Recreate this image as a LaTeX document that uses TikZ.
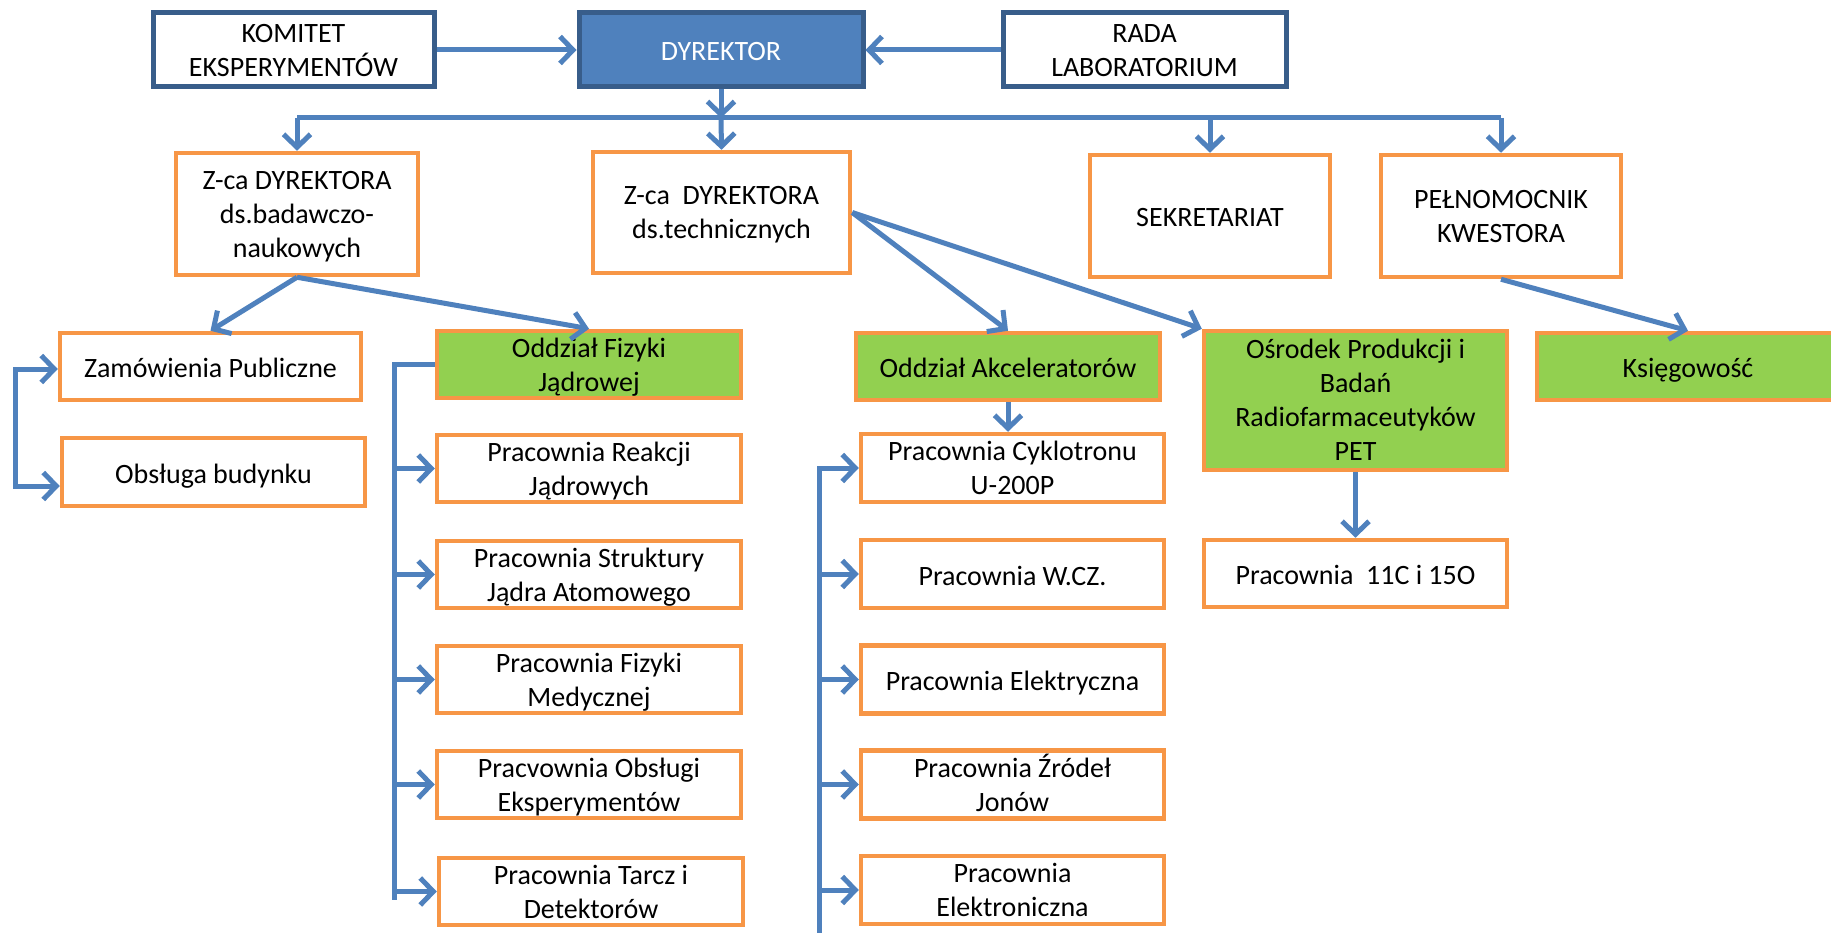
\documentclass[tikz,border=0pt]{standalone}
\usepackage{fontspec}
\setmainfont{Carlito}
\usetikzlibrary{arrows.meta}
\definecolor{lblue}{HTML}{4F81BD}
\definecolor{dblue}{HTML}{385D8A}
\definecolor{orng}{HTML}{F79646}
\definecolor{grn}{HTML}{92D050}
\begin{document}
\begin{tikzpicture}[x=1pt,y=-1pt,
  box/.style={draw=orng, line width=4.5pt, fill=white, align=center, inner sep=0pt,
    font=\fontsize{28}{34}\selectfont, text=black},
  gbox/.style={box, fill=grn},
  tbox/.style={box, draw=dblue, line width=5pt, minimum height=74pt},
  one/.style={text height=22pt, text depth=0pt},
  two/.style={text height=53pt, text depth=0pt},
  three/.style={text height=88pt, text depth=0pt},
  four/.style={text height=120pt, text depth=0pt},
  ln/.style={draw=lblue, line width=5pt, line join=miter},
  conn/.style={ln, -{Straight Barb[length=13pt,width=27pt]}},
  conn2/.style={ln, {Straight Barb[length=13pt,width=27pt]}-{Straight Barb[length=13pt,width=27pt]}}
]
\useasboundingbox (0,0) rectangle (1831,933);
\fill[white] (0,0) rectangle (1831,933);

% top row
\node[tbox, two, minimum width=281pt] (kom) at (293.5,50) {KOMITET\\EKSPERYMENTÓW};
\node[tbox, one, minimum width=284pt, fill=lblue, text=white] (dyr) at (721,50) {DYREKTOR};
\node[tbox, two, minimum width=283pt] (rada) at (1144.5,50) {RADA\\LABORATORIUM};

% second row
\node[box, three, minimum width=242pt, minimum height=122pt] (zb) at (297,214) {Z-ca DYREKTORA\\ds.badawczo-\\naukowych};
\node[box, two, minimum width=257pt, minimum height=121pt] (zt) at (721.5,212.5) {Z-ca~~DYREKTORA\\ds.technicznych};
\node[box, one, minimum width=240pt, minimum height=122pt] (sek) at (1210,216) {SEKRETARIAT};
\node[box, two, minimum width=240pt, minimum height=122pt] (pel) at (1501,216) {PEŁNOMOCNIK\\KWESTORA};

% left column
\node[box, one, minimum width=301pt, minimum height=67pt] (zam) at (210.5,366.5) {Zamówienia Publiczne};
\node[box, one, minimum width=303pt, minimum height=68pt] (ob) at (213.5,472) {Obsługa budynku};

% Fizyki Jadrowej column
\node[gbox, two, minimum width=304pt, minimum height=67pt] (ofj) at (589,364.5) {Oddział Fizyki\\Jądrowej};
\node[box, two, minimum width=304pt, minimum height=67pt] (pf1) at (589,468.5) {Pracownia Reakcji\\Jądrowych};
\node[box, two, minimum width=304pt, minimum height=67pt] (pf2) at (589,574.5) {Pracownia Struktury\\Jądra Atomowego};
\node[box, two, minimum width=304pt, minimum height=67pt] (pf3) at (589,679.5) {Pracownia Fizyki\\Medycznej};
\node[box, two, minimum width=304pt, minimum height=67pt] (pf4) at (589,784.5) {Pracvownia Obsługi\\Eksperymentów};
\node[box, two, minimum width=304pt, minimum height=67pt] (pf5) at (591,891.5) {Pracownia Tarcz i\\Detektorów};

% Akceleratorow column
\node[gbox, one, minimum width=304pt, minimum height=67pt] (oa) at (1008,366.5) {Oddział Akceleratorów};
\node[box, two, minimum width=303pt, minimum height=68pt] (pa1) at (1012.5,468) {Pracownia Cyklotronu\\U-200P};
\node[box, one, minimum width=303pt, minimum height=68pt] (pa2) at (1012.5,574) {Pracownia W.CZ.};
\node[box, one, minimum width=303pt, minimum height=68pt] (pa3) at (1012.5,679.5) {Pracownia Elektryczna};
\node[box, two, minimum width=303pt, minimum height=68pt] (pa4) at (1012.5,784.5) {Pracownia Źródeł\\Jonów};
\node[box, two, minimum width=303pt, minimum height=68pt] (pa5) at (1012.5,890) {Pracownia\\Elektroniczna};

% PET column
\node[gbox, four, minimum width=303pt, minimum height=139pt] (osr) at (1355.5,400.5) {Ośrodek Produkcji i\\Badań\\Radiofarmaceutyków\\PET};
\node[box, one, minimum width=303pt, minimum height=67pt] (p11) at (1355.5,573.5) {Pracownia~~11C i 15O};

% Ksiegowosc
\node[gbox, one, minimum width=302pt, minimum height=67pt] (ks) at (1688,366.5) {Księgowość};

% coordinates
\coordinate (busy) at (0,118);
\coordinate (lbtop) at (15,369);
\coordinate (lbbot) at (15,486);
\coordinate (fjbot) at (394,900);
\coordinate (acbot) at (819,950);

% top connectors
\draw[conn] (kom.east) -- (dyr.west);
\draw[conn] (rada.west) -- (dyr.east);
\draw[conn] (dyr.south) -- (dyr.south |- busy);
\draw[ln] (zb.north |- busy) -- (pel.north |- busy);
\draw[conn] (zb.north |- busy) -- (zb.north);
\draw[conn] (dyr.south |- busy) -- (zt.north);
\draw[conn] (sek.north |- busy) -- (sek.north);
\draw[conn] (pel.north |- busy) -- (pel.north);

% diagonals
\draw[conn] (zb.south) -- (zam.north);
\draw[conn] (zb.south) -- (ofj.north);
\draw[conn] (zt.east) -- (oa.north);
\draw[conn] (zt.east) -- (osr.north west);
\draw[conn] (pel.south) -- (ks.north);

% left bracket
\draw[conn2] (lbtop -| zam.west) -- (lbtop) -- (lbbot) -- (lbbot -| ob.west);

% Fizyki bracket
\draw[ln] (ofj.west) -- (ofj.west -| fjbot) -- (fjbot);
\foreach \n in {pf1,pf2,pf3,pf4,pf5}
  \draw[conn] (\n.west -| fjbot) -- (\n.west);

% Akceleratorow
\draw[conn] (oa.south) -- (oa.south |- pa1.north);
\draw[conn] (acbot) -- (pa1.west -| acbot) -- (pa1.west);
\foreach \n in {pa2,pa3,pa4,pa5}
  \draw[conn] (\n.west -| acbot) -- (\n.west);

% PET
\draw[conn] (osr.south) -- (p11.north);
\end{tikzpicture}
\end{document}
